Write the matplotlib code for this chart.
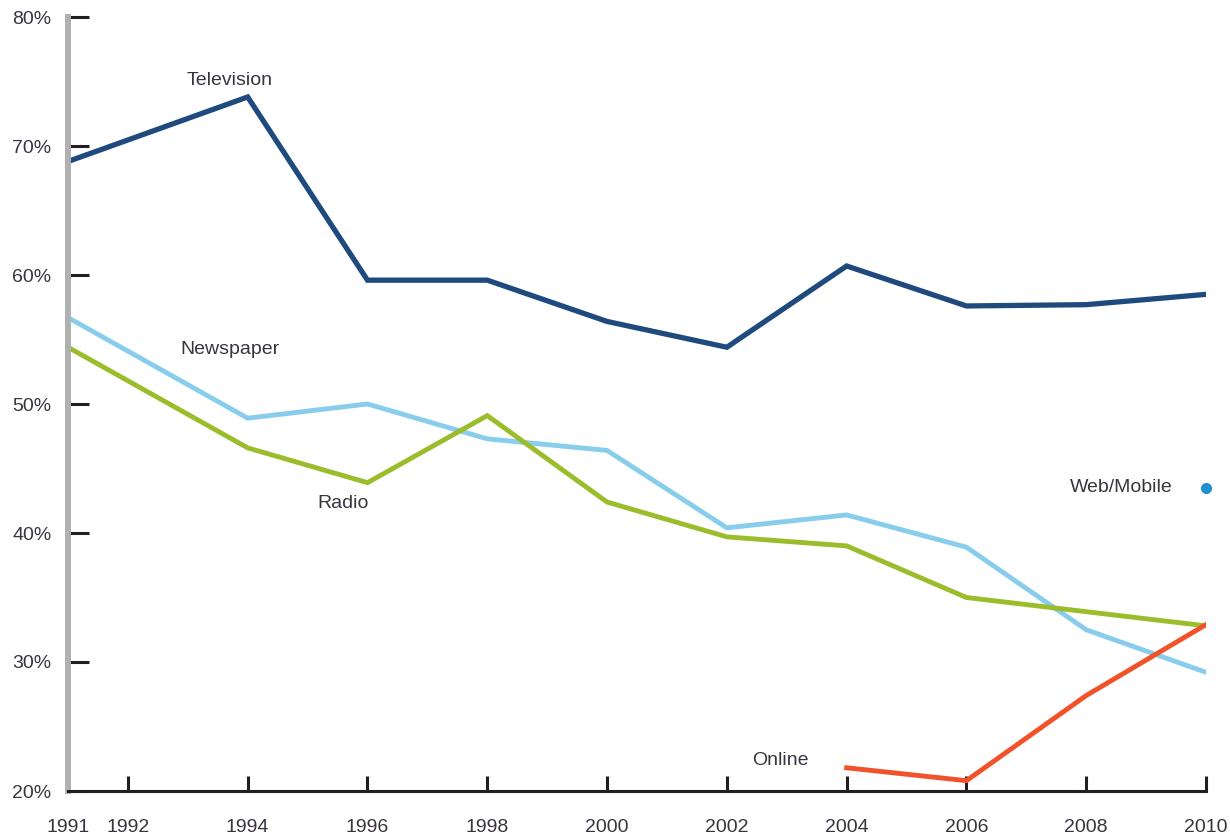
import numpy as np
import matplotlib.pyplot as plt

# %%
years = [1991, 1994, 1996, 1998, 2000, 2002, 2004, 2006, 2008, 2010]
television = [68.8, 73.8, 59.6, 59.6, 56.4, 54.4, 60.7, 57.6, 57.7, 58.5]
newspaper = [56.7, 48.9, 50.0, 47.3, 46.4, 40.4, 41.4, 38.9, 32.5, 29.2]
radio = [54.4, 46.6, 43.9, 49.1, 42.4, 39.7, 39.0, 35.0, 33.9, 32.8]

online_years = [2004, 2006, 2008, 2010]
online = [21.8, 20.8, 27.4, 32.9]

web_year = [2010]
web_mobile = [43.5]

xticks = [1991, 1992, 1994, 1996, 1998, 2000, 2002, 2004, 2006, 2008, 2010]
yticks = [20, 30, 40, 50, 60, 70, 80]

# %%
plt.rcParams['font.family'] = ['Liberation Sans', 'DejaVu Sans']

fig = plt.figure(figsize=(12.3, 8.39), dpi=100)
ax = fig.add_axes([68 / 1230, 1 - 791 / 839, (1206 - 68) / 1230, (791 - 17) / 839])

ax.plot(years, television, color='#1f4a7e', lw=3.8, solid_joinstyle='miter')
ax.plot(years, newspaper, color='#88cdec', lw=3.5, solid_joinstyle='miter')
ax.plot(years, radio, color='#9bbd2b', lw=3.5, solid_joinstyle='miter')
ax.plot(online_years, online, color='#f1522a', lw=3.5, solid_joinstyle='miter')
ax.plot(web_year, web_mobile, 'o', color='#2190cf', ms=7, clip_on=False)

txt = dict(fontsize=14, color='#3a3440')
ax.text(1993.7, 75.1, 'Television', ha='center', va='center', **txt)
ax.text(1993.7, 54.2, 'Newspaper', ha='center', va='center', **txt)
ax.text(1995.6, 42.3, 'Radio', ha='center', va='center', **txt)
ax.text(2002.9, 22.4, 'Online', ha='center', va='center', **txt)
ax.text(2009.45, 43.5, 'Web/Mobile', ha='right', va='center', **txt)

ax.set_xlim(1991, 2010)
ax.set_ylim(20, 80)
ax.set_xticks(xticks)
ax.set_xticklabels([str(y) for y in xticks])
ax.set_yticks(yticks)
ax.set_yticklabels([f'{v}%' for v in yticks])

for s in ['top', 'right']:
    ax.spines[s].set_visible(False)
ax.spines['left'].set_color('#b0b0b0')
ax.spines['left'].set_linewidth(4.3)
ax.spines['bottom'].set_color('#231f20')
ax.spines['bottom'].set_linewidth(2.2)

ax.tick_params(axis='y', direction='in', length=15, width=2.2, color='#231f20',
               pad=12, labelsize=14, labelcolor='#3a3440')
ax.tick_params(axis='x', direction='in', length=11, width=2.2, color='#231f20',
               pad=20, labelsize=14, labelcolor='#3a3440')

fig.savefig('out.png', dpi=100)
